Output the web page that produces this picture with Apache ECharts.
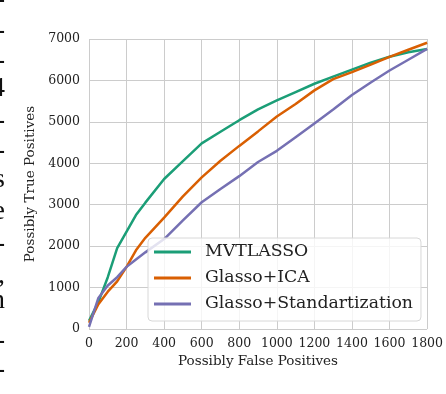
<!DOCTYPE html>
<html>
<head>
<meta charset="utf-8">
<script src="https://cdn.jsdelivr.net/npm/echarts@6/dist/echarts.min.js"></script>
<style>
  html, body { margin:0; padding:0; background:#fff; }
  #plot { width:446px; height:394px; }
</style>
</head>
<body>
<div id="plot"></div>
<script>
// Possibly false positives (x) shared by all curves
const fpCounts = [0, 50, 100, 150, 200, 250, 300, 400, 500, 600, 700, 800, 900, 1000, 1100, 1200, 1300, 1400, 1500, 1600, 1700, 1800];
// Possibly true positives per method
const mvtlasso = [200, 650, 1250, 1950, 2350, 2750, 3050, 3620, 4050, 4480, 4760, 5040, 5300, 5520, 5720, 5920, 6090, 6260, 6430, 6570, 6680, 6760];
const glassoIca = [150, 600, 900, 1150, 1500, 1900, 2200, 2690, 3200, 3660, 4060, 4420, 4770, 5130, 5430, 5760, 6030, 6200, 6380, 6570, 6740, 6910];
const glassoStd = [50, 750, 1050, 1250, 1500, 1680, 1850, 2170, 2620, 3060, 3380, 3690, 4030, 4300, 4630, 4960, 5300, 5650, 5950, 6240, 6500, 6760];
const seriesNames = ['MVTLASSO', 'Glasso+ICA', 'Glasso+Standartization'];
// cropped letters from the neighbouring page column
const marginGlyphs = ['-', '-', '-', '4', '-', '-', 's', 'e', '-', ',', 'n', '-', '-'];
const marginGlyphY = [0, 31, 61, 89, 121, 151, 180, 212, 244, 276, 301, 341, 370];

const el = document.getElementById('plot');
const chart = echarts.init(el, null, { renderer:'canvas' });

const serif = 'DejaVu Serif';
const gridCol = '#cccccc';
const textCol = '#222222';
const colors = ['#1b9e77', '#d95f02', '#7570b3'];

const pair = ys => fpCounts.map((x, i) => [x, ys[i]]);

const glyphs = marginGlyphs.map((g, i) => ({
  type:'text', x: 5, y: marginGlyphY[i],
  style:{ text:g, font:'28px "Liberation Serif"', fill:'#111', align:'right', verticalAlign:'middle' },
  silent:true
}));

chart.setOption({
  animation:false,
  backgroundColor:'#fff',
  color: colors,
  grid:{ left:89, right:16, top:39, bottom:65 },
  xAxis:{
    type:'value', min:0, max:1800, interval:200,
    name:'Possibly False Positives', nameLocation:'middle', nameGap:24,
    nameTextStyle:{ fontFamily:serif, fontSize:13.5, color:textCol },
    axisLine:{ show:false }, axisTick:{ show:false },
    axisLabel:{ fontFamily:serif, fontSize:12.5, color:textCol, margin:8, formatter: v => String(v) },
    splitLine:{ show:true, lineStyle:{ color:gridCol, width:1 } }
  },
  yAxis:{
    type:'value', min:0, max:7000, interval:1000,
    name:'Possibly True Positives', nameLocation:'middle', nameGap:40, nameRotate:90,
    nameTextStyle:{ fontFamily:serif, fontSize:13.5, color:textCol },
    axisLine:{ show:false }, axisTick:{ show:false },
    axisLabel:{ fontFamily:serif, fontSize:12.5, color:textCol, margin:9, formatter: v => String(v) },
    splitLine:{ show:true, lineStyle:{ color:gridCol, width:1 } }
  },
  legend:{
    orient:'vertical', left:148, top:238,
    icon:'rect', itemWidth:37, itemHeight:3, itemGap:8,
    padding:[5, 8, 8, 6],
    backgroundColor:'rgba(255,255,255,0.8)',
    borderColor:'#d8d8d8', borderWidth:1, borderRadius:4,
    textStyle:{ fontFamily:serif, fontSize:17.3, color:textCol, lineHeight:18, padding:[0, 0, 0, 9] },
    data: seriesNames
  },
  graphic: glyphs,
  series: [mvtlasso, glassoIca, glassoStd].map((ys, i) => ({
    type:'line', name: seriesNames[i], data: pair(ys),
    showSymbol:false, smooth:false, z:2,
    lineStyle:{ width:2.5, color: colors[i] }
  }))
});
</script>
</body>
</html>
